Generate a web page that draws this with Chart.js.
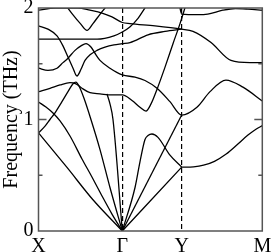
<!DOCTYPE html>
<html>
<head>
<meta charset="utf-8">
<script src="https://cdn.jsdelivr.net/npm/chart.js@4.4.0/dist/chart.umd.min.js"></script>
<style>
  html, body { margin: 0; padding: 0; background: #fff; }
</style>
</head>
<body>
<canvas id="chart" width="273" height="252"></canvas>
<script>
// High-symmetry points along the path
const kPoints = [0, 1, 1.709, 2.671];
const kLabels = ['X', '\u0393', 'Y', 'M'];

// Phonon bands, [k, frequency in THz]
const bandTop = [[0,1.98],[0.197,2.0],[0.471,2.0],[0.615,1.98],[0.758,1.955],[0.877,1.92],[1.0,1.87],[1.092,1.86],[1.39,1.84],[1.709,1.81],[1.844,1.79],[2.059,1.69],[2.297,1.53],[2.524,1.51],[2.671,1.51]];
const bandV = [[0.31,2.04],[0.40,1.95],[0.50,1.86],[0.579,1.80],[0.65,1.86],[0.74,1.95],[0.84,2.04]];
const bandFlat = [[0,1.72],[0.3,1.72],[0.7,1.72],[0.9,1.75],[1.0,1.785],[1.09,1.83],[1.19,1.91],[1.27,2.0],[1.32,2.05]];
const bandDip = [[0,1.84],[0.113,1.81],[0.221,1.75],[0.292,1.66],[0.352,1.56],[0.412,1.46],[0.459,1.39],[0.507,1.45],[0.555,1.53],[0.615,1.58],[0.698,1.62],[0.794,1.65],[0.901,1.67],[1.0,1.68],[1.092,1.69],[1.307,1.76],[1.51,1.79],[1.709,1.81]];
const bandTopYM = [[1.68,2.03],[1.709,1.945],[1.9,1.94],[2.02,1.945],[2.2,1.98],[2.35,1.995],[2.5,1.99],[2.671,1.98]];
const bandHump = [[0,1.46],[0.113,1.44],[0.221,1.46],[0.292,1.51],[0.352,1.55],[0.436,1.62],[0.507,1.66],[0.567,1.68],[0.626,1.65],[0.686,1.58],[0.734,1.53],[0.853,1.46],[1.0,1.40],[1.152,1.38],[1.271,1.35],[1.414,1.28],[1.569,1.16],[1.709,1.04],[1.891,1.11],[2.047,1.25],[2.237,1.354],[2.44,1.29],[2.671,1.166]];
const bandMid = [[0,1.25],[0.137,1.28],[0.257,1.31],[0.376,1.33],[0.447,1.32],[0.519,1.28],[0.615,1.24],[0.734,1.23],[0.877,1.22],[1.0,1.22],[1.116,1.17],[1.211,1.11],[1.283,1.076],[1.343,1.14],[1.414,1.27],[1.51,1.47],[1.605,1.68],[1.689,1.86],[1.76,2.03]];
const bandPeak = [[0,0.88],[0.078,0.94],[0.137,1.0],[0.197,1.06],[0.28,1.16],[0.352,1.25],[0.412,1.32],[0.447,1.335],[0.483,1.30],[0.543,1.19],[0.626,1.0],[0.734,0.73],[0.853,0.39],[1.0,0]];
const bandConcave = [[0,1.157],[0.089,1.112],[0.173,1.058],[0.257,0.987],[0.376,0.852],[0.519,0.646],[0.638,0.484],[0.758,0.314],[0.877,0.152],[1.0,0]];
const bandLow = [[0,0.88],[0.34,0.57],[0.65,0.28],[1.0,0]];
const bandSteep = [[0.817,1.23],[0.853,1.14],[0.889,1.0],[1.0,0]];
const bandGYPeak = [[1.0,0],[1.152,0.39],[1.211,0.62],[1.271,0.82],[1.307,0.856],[1.354,0.87],[1.426,0.84],[1.569,0.68],[1.709,0.573]];
const bandGYUpper = [[1.0,0],[1.709,1.04]];
const bandGYLower = [[1.0,0],[1.709,0.573]];
const bandYMLow = [[1.709,0.573],[1.85,0.576],[1.97,0.59],[2.1,0.625],[2.24,0.69],[2.38,0.78],[2.5,0.86],[2.6,0.915],[2.671,0.945]];

const bands = [bandTop, bandV, bandFlat, bandDip, bandTopYM, bandHump, bandMid, bandPeak,
  bandConcave, bandLow, bandSteep, bandGYPeak, bandGYUpper, bandGYLower, bandYMLow];

// y tick marks drawn inside the frame: [value, length]
const yMarks = [[0.5, 4], [1, 8], [1.5, 4]];

const serif = { family: 'Liberation Serif', size: 20 };

const framePlugin = {
  id: 'frame',
  afterDatasetsDraw(chart) {
    const { ctx, chartArea: a, scales: { y } } = chart;
    ctx.save();
    ctx.strokeStyle = '#555';
    ctx.lineWidth = 1.5;
    ctx.strokeRect(a.left, a.top, a.right - a.left, a.bottom - a.top);
    ctx.beginPath();
    yMarks.forEach(([v, len]) => {
      const py = y.getPixelForValue(v);
      ctx.moveTo(a.left, py); ctx.lineTo(a.left + len, py);
      ctx.moveTo(a.right, py); ctx.lineTo(a.right - len, py);
    });
    ctx.stroke();
    ctx.restore();
  }
};

new Chart(document.getElementById('chart'), {
  type: 'line',
  data: {
    datasets: bands.map(b => ({
      data: b.map(([k, f]) => ({ x: k, y: f })),
      borderColor: '#000',
      borderWidth: 1.3,
      pointRadius: 0,
      fill: false,
      cubicInterpolationMode: 'monotone'
    }))
  },
  options: {
    responsive: false,
    animation: false,
    layout: { padding: { top: 8, right: 10.7, bottom: 0, left: 0 } },
    plugins: { legend: { display: false }, tooltip: { enabled: false } },
    scales: {
      x: {
        type: 'linear',
        min: 0,
        max: kPoints[3],
        afterBuildTicks: s => { s.ticks = kPoints.map(v => ({ value: v })); },
        afterFit: s => { s.height = 21; s.paddingLeft = 0; s.paddingRight = 0; },
        ticks: {
          autoSkip: false, maxRotation: 0, padding: 4, color: '#000', font: serif,
          callback: (v, i) => kLabels[i]
        },
        grid: {
          drawTicks: false,
          lineWidth: 1.2,
          color: c => (c.tick && (c.tick.value === kPoints[1] || c.tick.value === kPoints[2])) ? '#000' : 'rgba(0,0,0,0)'
        },
        border: { display: false, dash: [5, 3] }
      },
      y: {
        min: 0,
        max: 2,
        afterFit: s => { s.width = 38.5; s.paddingTop = 0; s.paddingBottom = 0; },
        ticks: { stepSize: 1, padding: 5, color: '#000', font: serif },
        grid: { display: false, drawTicks: false },
        border: { display: false },
        title: { display: true, text: 'Frequency (THz)', color: '#000', font: serif, padding: { top: 0, bottom: 0 } }
      }
    }
  },
  plugins: [framePlugin]
});
</script>
</body>
</html>
